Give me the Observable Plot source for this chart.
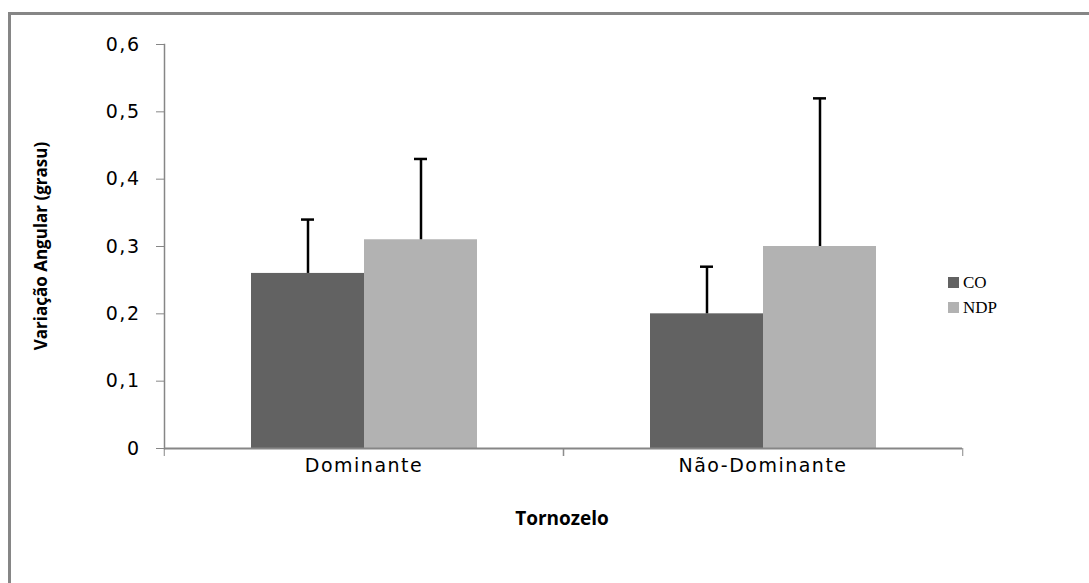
<!DOCTYPE html>
<html><head><meta charset="utf-8">
<script src="https://cdn.jsdelivr.net/npm/d3@7"></script>
<script src="https://cdn.jsdelivr.net/npm/@observablehq/plot@0.6"></script>
<style>
body{margin:0;background:#fff;}
#wrap{position:relative;width:1089px;height:583px;overflow:hidden;background:#fff;}
#frame{position:absolute;left:8px;top:12px;width:1200px;height:700px;border-left:3px solid #868686;border-top:3px solid #868686;}
#chart{position:absolute;left:0;top:0;}
#chart svg text{letter-spacing:1.5px;}
.ttl{position:absolute;font-family:"Open Sans",sans-serif;font-weight:700;color:#000;white-space:nowrap;}
#ylab{left:40px;top:246px;font-size:17px;transform:translate(-50%,-50%) rotate(-90deg);}
#xlab{left:562px;top:518px;font-size:19px;transform:translate(-50%,-50%);}
#legend{position:absolute;left:948px;top:270px;font-family:"Liberation Serif",serif;font-size:17px;}
#legend .row{display:flex;align-items:center;height:25px;}
#legend .sw{width:11px;height:11px;margin-right:4px;}
</style></head><body>
<div id="wrap"><div id="frame"></div><div id="chart"></div>
<div class="ttl" id="ylab">Variação Angular (grasu)</div>
<div class="ttl" id="xlab">Tornozelo</div>
<div id="legend"></div></div>
<script>
const categories = ["Dominante", "Não-Dominante"];
const series = ["CO", "NDP"];
const coValues = [0.26, 0.20];
const ndpValues = [0.31, 0.30];
const coUpper = [0.34, 0.27];
const ndpUpper = [0.43, 0.52];
const yTicks = [0, 0.1, 0.2, 0.3, 0.4, 0.5, 0.6];
const colors = ["#626262", "#b2b2b2"];

const rows = [];
categories.forEach((c, i) => {
  rows.push({category: c, series: "CO", value: coValues[i], upper: coUpper[i]});
  rows.push({category: c, series: "NDP", value: ndpValues[i], upper: ndpUpper[i]});
});

const W = 1089, H = 583, mL = 163, mR = 127, mT = 44, mB = 135;
const bw = (W - mL - mR) / categories.length;
const axisGray = "#868686";
const fmt = d => d === 0 ? "0" : d.toFixed(1).replace(".", ",");

const chart = Plot.plot({
  width: W, height: H,
  marginLeft: mL, marginRight: mR, marginTop: mT, marginBottom: mB,
  style: {fontFamily: "DejaVu Sans, sans-serif", fontSize: "19px", color: "#000", background: "transparent"},
  fx: {domain: categories, padding: 0, axis: null, label: null},
  x: {domain: series, paddingInner: 0, paddingOuter: 0.76, axis: null},
  y: {domain: [0, 0.6], axis: null},
  color: {domain: series, range: colors},
  marks: [
    Plot.barY(rows, {fx: "category", x: "series", y: "value", fill: "series"}),
    Plot.ruleX(rows, {fx: "category", x: "series", y1: "value", y2: "upper", stroke: "#000", strokeWidth: 2.5}),
    Plot.tickY(rows, {fx: "category", x: "series", y: "upper", stroke: "#000", strokeWidth: 2.5, insetLeft: 50, insetRight: 50}),
    Plot.ruleY([0], {stroke: axisGray, strokeWidth: 2}),
    Plot.frame({anchor: "left", facetAnchor: "left", stroke: axisGray, strokeWidth: 1.5}),
    Plot.axisY({ticks: yTicks, tickSize: 8, tickPadding: 16, tickFormat: fmt, stroke: axisGray, label: null, fontSize: 19}),
    Plot.axisFx({anchor: "bottom", tickSize: 0, tickPadding: 10, label: null, fontSize: 19}),
    Plot.axisFx({anchor: "bottom", tickSize: 8, tickFormat: () => "", label: null, stroke: axisGray, dx: -bw / 2}),
    Plot.axisFx({anchor: "bottom", tickSize: 8, tickFormat: () => "", label: null, stroke: axisGray, dx: bw / 2})
  ]
});
document.getElementById("chart").appendChild(chart);

const legend = document.getElementById("legend");
series.forEach((s, i) => {
  const row = document.createElement("div");
  row.className = "row";
  const sw = document.createElement("div");
  sw.className = "sw";
  sw.style.background = colors[i];
  const t = document.createElement("span");
  t.textContent = s;
  row.appendChild(sw); row.appendChild(t);
  legend.appendChild(row);
});
</script>
</body></html>
